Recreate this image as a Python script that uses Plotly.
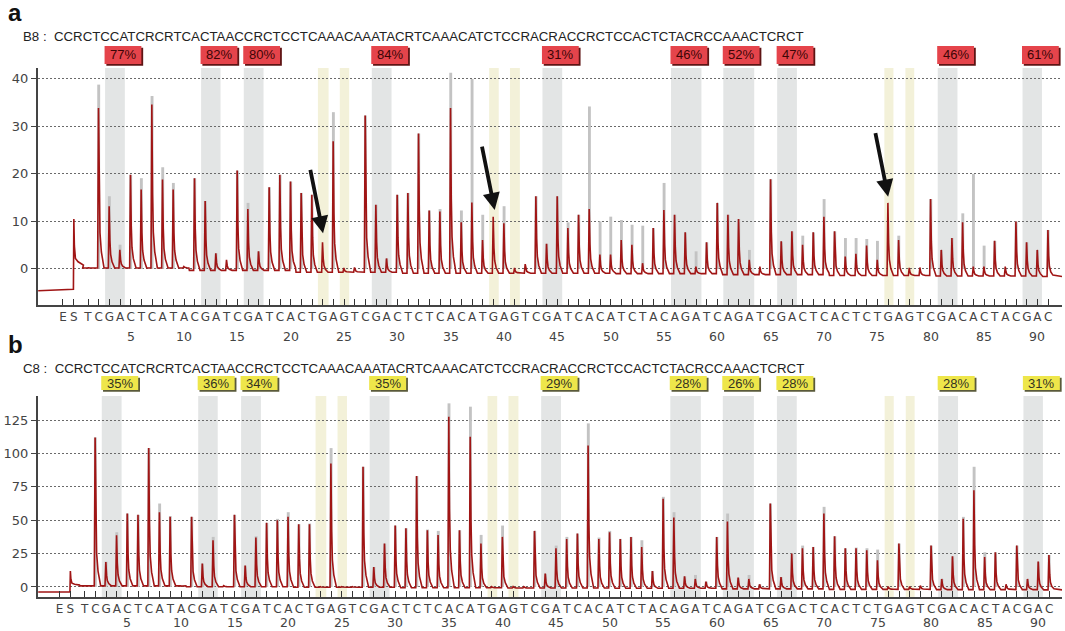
import plotly.graph_objects as go

W, H = 1065, 631

# ---------------- data ----------------
dispensation = list("TCGACTCATACGATCGATCACTGAGTCGACTCTCACATGAGTCGATCACATCTACAGATCAGATCGACTCACTCTGAGTCGACACTACGAC")
positions = list(range(1, len(dispensation) + 1))
pre_labels = ["E", "S"]
pre_pos = [-1.35, -0.33]
number_ticks = list(range(5, 95, 5))

seq_text = "CCRCTCCATCRCRTCACTAACCRCTCCTCAAACAAATACRTCAAACATCTCCRACRACCRCTCCACTCTACRCCAAACTCRCT"
sample_a = "B8"
sample_b = "C8"

# Panel a: observed signal peaks (red) and expected histogram (gray)
red_a = [0.3, 33.9, 13.2, 4.0, 19.8, 16.7, 34.6, 18.8, 16.7, 0.5,
         19.1, 14.3, 3.3, 1.9, 20.7, 12.6, 3.7, 17.2, 19.8, 18.4,
         16.0, 15.6, 5.6, 26.9, 0.2, 0.3, 32.3, 13.5, 2.2, 15.6,
         16.0, 28.5, 12.3, 12.1, 33.9, 9.8, 14.0, 6.1, 11.0, 9.6,
         0.2, 1.0, 15.3, 5.3, 15.3, 8.6, 11.4, 12.6, 3.0, 3.0,
         6.1, 5.1, 1.2, 8.6, 12.4, 11.4, 7.7, 0.5, 5.6, 13.9,
         11.4, 10.5, 1.9, 0.5, 18.9, 5.8, 7.9, 5.1, 7.7, 11.0,
         7.9, 2.6, 3.2, 4.9, 1.9, 13.9, 6.1, 0.2, 0.3, 14.7,
         4.0, 6.5, 9.8, 0.5, 0.5, 5.9, 0.5, 10.0, 5.6, 4.0, 8.2]
gray_a = [0, 38.8, 15.3, 5.1, 19.8, 19.1, 36.4, 21.4, 18.1, 0,
          19.1, 14.3, 3.3, 0, 20.7, 13.9, 3.7, 17.2, 19.8, 18.4,
          16.0, 15.6, 0, 33.0, 0, 0, 32.3, 13.5, 2.2, 15.6,
          16.0, 28.5, 12.3, 12.6, 41.3, 12.3, 40.0, 11.4, 0, 13.2,
          0, 0, 15.3, 5.3, 15.3, 9.8, 11.4, 34.2, 10.0, 11.0,
          10.3, 9.3, 9.1, 8.6, 18.1, 11.4, 7.7, 3.7, 5.6, 13.9,
          11.4, 10.5, 4.0, 0, 18.9, 5.8, 7.9, 7.0, 7.7, 14.7,
          7.9, 6.5, 6.5, 6.3, 5.9, 0, 7.0, 0, 0, 14.7,
          4.0, 6.5, 11.7, 20.0, 4.9, 5.9, 0, 10.0, 5.6, 4.0, 8.2]
baseline_a = [0.2, -0.3, -0.7, -0.9, -0.9, -1.0, -1.2, -1.4, -1.5, -1.6]
pre_level_a = [-4.6, -4.3]
spike_a = 10.5

# Panel b
red_b = [1, 112, 18.75, 38.75, 55, 54, 104, 56, 52.5, 0.5,
         52.5, 17.5, 35, 1, 54, 16, 37, 48, 50, 52.5,
         47, 47, 0.3, 92.5, 0.3, 0.3, 90, 15, 32.5, 46,
         44, 83, 42.5, 39, 127.5, 42.5, 112.5, 32.5, 0.3, 37.5,
         0.3, 0.3, 42, 10, 29, 36, 40, 106, 36, 41,
         36, 37.5, 30, 12, 66, 52, 8, 6, 4, 37.5,
         49, 7, 6, 2, 62.5, 7.5, 25, 29, 30, 55,
         38, 29, 29, 27.5, 20, 0.3, 32.5, 0.3, 1, 31,
         6, 23, 51, 72.5, 22.5, 26, 2, 31, 6, 19, 24]
gray_b = [0, 112, 19, 41, 55, 54, 104, 62.5, 53, 0,
          52.5, 17.5, 37.5, 0, 54, 16, 38, 48, 51, 56,
          47, 47.5, 0, 104, 0, 0, 90, 15, 32.5, 46,
          44, 83, 43, 42, 137.5, 42.5, 135, 39, 0, 46,
          0, 0, 42, 10, 31, 37.5, 40, 122.5, 37, 42,
          36, 37.5, 35, 12, 67.5, 56, 8, 9, 4, 37.5,
          55, 7, 9, 2, 62.5, 7.5, 25, 31, 30, 60,
          38, 29, 29.5, 29, 28, 0, 32.5, 0, 0, 31,
          6, 23, 52.5, 90, 26, 26, 0, 31, 6, 19, 24]
baseline_b = [0.8, 0.2, -0.2, -0.6, -0.8, -1.0, -1.4, -1.8, -2.0, -2.2]
pre_level_b = [-3.8, -3.7]
spike_b = 12

# CpG (gray) and control (yellow) highlighted regions, dispensation units
cpg_start = [2.6, 11.6, 15.6, 27.6, 43.6, 55.65, 60.55, 65.6, 80.65, 88.6]
cpg_end = [4.45, 13.42, 17.45, 29.45, 45.45, 58.5, 63.45, 67.45, 82.5, 90.42]
ctrl_start = [22.55, 24.6, 38.6, 40.55, 75.65, 77.62]
ctrl_end = [23.55, 25.48, 39.5, 41.48, 76.5, 78.45]
pct_a = ["77%", "82%", "80%", "84%", "31%", "46%", "52%", "47%", "46%", "61%"]
pct_b = ["35%", "36%", "34%", "35%", "29%", "28%", "26%", "28%", "28%", "31%"]

arrow_pos = [23.03, 39.12, 76.0]
arrow_val = [7.5, 12.4, 15.2]

# ---------------- styling / geometry ----------------
RED = "#a01515"
GRAYBAR = "#c3c3c3"
SHADE = "#e3e5e5"
YSHADE = "#f3f1d9"
FONT = "DejaVu Sans"
SANS = "Liberation Sans"

def py(p):
    return 1 - p / H

XDOM = [38 / W, 1062 / W]
xr_a = [-3.69, 92.3]
xr_b = [-3.35, 92.2]
yr_a = [-7.6, 42.3]
yr_b = [-7.5, 143]

SHAPE = [(-0.5, 0.0), (-0.1, 0.0), (-0.02, 1.0), (0.05, 0.45), (0.12, 0.22), (0.25, 0.1), (0.45, 0.03)]


def build_signal(red, base, pre, spike, xr):
    xs = [xr[0] + 0.02, pre_pos[1] - 0.04]
    ys = [pre[0], pre[1]]
    s = pre_pos[1]
    b0 = base[0]
    for dx, v in [(0.0, spike), (0.05, b0 + 0.45 * (spike - b0)), (0.15, b0 + 2.0),
                  (0.4, b0 + 1.3), (0.9, b0 + 0.6)]:
        xs.append(s + dx)
        ys.append(v)
    for p, h in zip(positions, red):
        b = base[(p - 1) // 10]
        for dx, f in SHAPE:
            xs.append(p + dx)
            ys.append(b + f * (h - b))
    xs.append(xr[1])
    ys.append(base[-1])
    return xs, ys


fig = go.Figure()

for red, gray, base, pre, spike, xr, xa, ya in [
    (red_a, gray_a, baseline_a, pre_level_a, spike_a, xr_a, "x", "y"),
    (red_b, gray_b, baseline_b, pre_level_b, spike_b, xr_b, "x2", "y2"),
]:
    fig.add_trace(go.Bar(x=positions, y=gray, width=0.27, marker=dict(color=GRAYBAR, line=dict(width=0)),
                         xaxis=xa, yaxis=ya, hoverinfo="skip"))
    sx, sy = build_signal(red, base, pre, spike, xr)
    fig.add_trace(go.Scatter(x=sx, y=sy, mode="lines", line=dict(color=RED, width=1.6),
                             xaxis=xa, yaxis=ya, hoverinfo="skip"))

shapes = []
annotations = []

panels = [
    dict(xref="x", yref="y", xr=xr_a, pct=pct_a, box_top=46, box_bot=64, fill="#e5444b",
         edge="#5e1414", tcol="#3d0606", header=sample_a, header_y=36, num_y=336, label="a", label_y=13),
    dict(xref="x2", yref="y2", xr=xr_b, pct=pct_b, box_top=376, box_bot=390, fill="#eee64a",
         edge="#5a5a3a", tcol="#333322", header=sample_b, header_y=368, num_y=622, label="b", label_y=344),
]

for pn in panels:
    xref = pn["xref"]
    ydom = pn["yref"] + " domain"
    for a, b in zip(cpg_start, cpg_end):
        shapes.append(dict(type="rect", xref=xref, yref=ydom, x0=a, x1=b, y0=0, y1=1,
                           fillcolor=SHADE, line=dict(width=0), layer="below"))
    for a, b in zip(ctrl_start, ctrl_end):
        shapes.append(dict(type="rect", xref=xref, yref=ydom, x0=a, x1=b, y0=0, y1=1,
                           fillcolor=YSHADE, line=dict(width=0), layer="below"))
    px_per = (XDOM[1] - XDOM[0]) * W / (pn["xr"][1] - pn["xr"][0])
    for a, t in zip(cpg_start, pn["pct"]):
        x0 = a - 0.05
        x1 = x0 + 3.45
        off = 1.8 / px_per
        shapes.append(dict(type="rect", xref=xref, yref="paper", x0=x0 + off, x1=x1 + off,
                           y0=py(pn["box_bot"] + 1.8), y1=py(pn["box_top"] + 1.8),
                           fillcolor=pn["edge"], line=dict(width=0), layer="above"))
        shapes.append(dict(type="rect", xref=xref, yref="paper", x0=x0, x1=x1,
                           y0=py(pn["box_bot"]), y1=py(pn["box_top"]),
                           fillcolor=pn["fill"], line=dict(width=0), layer="above"))
        annotations.append(dict(xref=xref, yref="paper", x=(x0 + x1) / 2,
                                y=py((pn["box_top"] + pn["box_bot"]) / 2), text=t, showarrow=False,
                                font=dict(family=SANS, size=13, color=pn["tcol"]),
                                xanchor="center", yanchor="middle"))
    annotations.append(dict(xref="paper", yref="paper", x=21 / W, y=py(pn["header_y"]),
                            text=pn["header"] + " :  " + seq_text, showarrow=False,
                            font=dict(family=SANS, size=13.25, color="#222"),
                            xanchor="left", yanchor="middle"))
    for n in number_ticks:
        annotations.append(dict(xref=xref, yref="paper", x=n, y=py(pn["num_y"]), text=str(n),
                                showarrow=False, font=dict(family=FONT, size=12.5, color="#444"),
                                xanchor="center", yanchor="middle"))
    annotations.append(dict(xref="paper", yref="paper", x=6 / W, y=py(pn["label_y"]), text="<b>" + pn["label"] + "</b>",
                            showarrow=False, font=dict(family=SANS, size=24, color="#111"),
                            xanchor="left", yanchor="middle"))

for x, v in zip(arrow_pos, arrow_val):
    annotations.append(dict(xref="x", yref="y", x=x, y=v, ax=-13, ay=-65, axref="pixel", ayref="pixel",
                            text="", showarrow=True, arrowhead=2, arrowsize=0.9, arrowwidth=3.8,
                            arrowcolor="#111", standoff=0))

xcommon = dict(domain=XDOM, tickmode="array", tickvals=pre_pos + positions, ticktext=pre_labels + dispensation,
               ticks="inside", ticklen=6, tickwidth=1.2, tickcolor="#333", showline=True, linecolor="#444",
               linewidth=2, showgrid=False, zeroline=False, tickangle=0,
               tickfont=dict(family=FONT, size=12, color="#444"), fixedrange=True)
ycommon = dict(ticks="outside", ticklen=5, tickwidth=1, tickcolor="#444", showline=True, linecolor="#444",
               linewidth=2, showgrid=True, gridcolor="#6a6a6a", griddash="2px,2px", gridwidth=1, zeroline=False,
               tickfont=dict(family=FONT, size=13, color="#444"), fixedrange=True)

fig.update_layout(
    width=W, height=H, margin=dict(l=0, r=0, t=0, b=0),
    paper_bgcolor="white", plot_bgcolor="white", showlegend=False, barmode="overlay",
    xaxis=dict(xcommon, range=xr_a, anchor="y"),
    yaxis=dict(ycommon, range=yr_a, domain=[py(305), py(68)], tickvals=[0, 10, 20, 30, 40], anchor="x"),
    xaxis2=dict(xcommon, range=xr_b, anchor="y2"),
    yaxis2=dict(ycommon, range=yr_b, domain=[py(597), py(396)], tickvals=[0, 25, 50, 75, 100, 125], anchor="x2"),
    shapes=shapes, annotations=annotations,
)

fig.write_html("out.html")
